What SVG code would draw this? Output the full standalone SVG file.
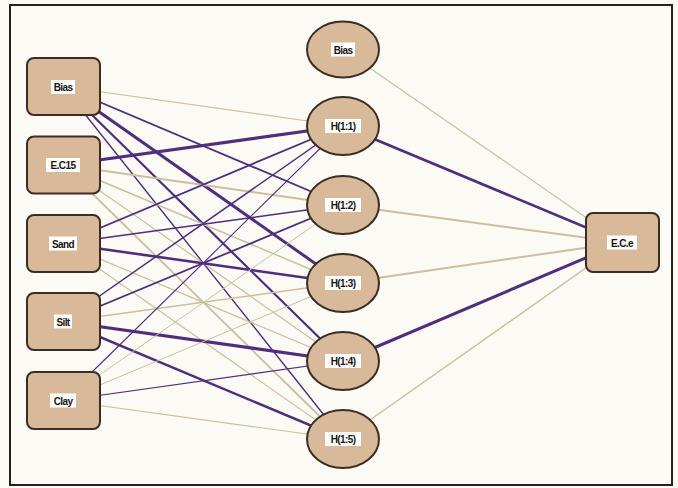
<svg xmlns="http://www.w3.org/2000/svg" width="678" height="488" viewBox="0 0 678 488">
<style>
.p{stroke:#4f2e7e;fill:none;stroke-linecap:round}
.t{stroke:#cbbf9e;fill:none;stroke-linecap:round}
.box{fill:#d8b999;stroke:#3b2c24;stroke-width:2}
.lb{fill:#ffffff}
.tx{font-family:"Liberation Sans",Arial,sans-serif;font-size:10px;font-weight:bold;fill:#1a1410;text-anchor:middle;letter-spacing:-0.6px}
</style>
<rect x="0" y="0" width="678" height="488" fill="#fbfaf4"/>
<rect x="10" y="5" width="662" height="480" fill="none" stroke="#222" stroke-width="2"/>
<g id="connectors">
<!-- Bias input -->
<line class="t" stroke-width="1.2" x1="63" y1="86.5" x2="343" y2="126"/>
<line class="p" stroke-width="1.8" x1="63" y1="86.5" x2="343" y2="205"/>
<line class="p" stroke-width="3" x1="63" y1="86.5" x2="343" y2="283"/>
<line class="p" stroke-width="2.2" x1="63" y1="86.5" x2="343" y2="361"/>
<line class="p" stroke-width="1.4" x1="63" y1="86.5" x2="343" y2="439"/>
<!-- E.C15 -->
<line class="p" stroke-width="3.2" x1="63" y1="165" x2="343" y2="126"/>
<line class="t" stroke-width="2" x1="63" y1="165" x2="343" y2="205"/>
<line class="t" stroke-width="1.5" x1="63" y1="165" x2="343" y2="283"/>
<line class="t" stroke-width="1.2" x1="63" y1="165" x2="343" y2="361"/>
<line class="t" stroke-width="1.8" x1="63" y1="165" x2="343" y2="439"/>
<!-- Sand -->
<line class="p" stroke-width="1.8" x1="63" y1="243.5" x2="343" y2="126"/>
<line class="p" stroke-width="1.5" x1="63" y1="243.5" x2="343" y2="205"/>
<line class="p" stroke-width="2.6" x1="63" y1="243.5" x2="343" y2="283"/>
<line class="t" stroke-width="1.2" x1="63" y1="243.5" x2="343" y2="361"/>
<line class="t" stroke-width="1.2" x1="63" y1="243.5" x2="343" y2="439"/>
<!-- Silt -->
<line class="p" stroke-width="1.5" x1="63" y1="321.5" x2="343" y2="126"/>
<line class="p" stroke-width="1.8" x1="63" y1="321.5" x2="343" y2="205"/>
<line class="t" stroke-width="1.5" x1="63" y1="321.5" x2="343" y2="283"/>
<line class="p" stroke-width="3.2" x1="63" y1="321.5" x2="343" y2="361"/>
<line class="p" stroke-width="2.5" x1="63" y1="321.5" x2="343" y2="439"/>
<!-- Clay -->
<line class="p" stroke-width="1.1" x1="63" y1="400.5" x2="343" y2="126"/>
<line class="t" stroke-width="1" x1="63" y1="400.5" x2="343" y2="205"/>
<line class="t" stroke-width="1" x1="63" y1="400.5" x2="343" y2="283"/>
<line class="p" stroke-width="1.2" x1="63" y1="400.5" x2="343" y2="361"/>
<line class="t" stroke-width="1.2" x1="63" y1="400.5" x2="343" y2="439"/>
<!-- hidden to output -->
<line class="t" stroke-width="1.2" x1="343" y1="49.5" x2="622" y2="242.5"/>
<line class="p" stroke-width="2.6" x1="343" y1="126" x2="622" y2="242.5"/>
<line class="t" stroke-width="2" x1="343" y1="205" x2="622" y2="242.5"/>
<line class="t" stroke-width="2" x1="343" y1="283" x2="622" y2="242.5"/>
<line class="p" stroke-width="3" x1="343" y1="361" x2="622" y2="242.5"/>
<line class="t" stroke-width="1.4" x1="343" y1="439" x2="622" y2="242.5"/>
</g>
<g id="in_bias"><rect class="box" x="27" y="58" width="73" height="57" rx="7"/><rect class="lb" x="51" y="80" width="24" height="14"/><text class="tx" x="63" y="91">Bias</text></g>
<g id="in_ec15"><rect class="box" x="27" y="136.5" width="73" height="57" rx="7"/><rect class="lb" x="46" y="158" width="34" height="14"/><text class="tx" x="63" y="169">E.C15</text></g>
<g id="in_sand"><rect class="box" x="27" y="215" width="73" height="57" rx="7"/><rect class="lb" x="49" y="236.5" width="28" height="14"/><text class="tx" x="63" y="247.5">Sand</text></g>
<g id="in_silt"><rect class="box" x="27" y="293" width="73" height="57" rx="7"/><rect class="lb" x="54" y="314.5" width="18" height="14"/><text class="tx" x="63" y="325.5">Silt</text></g>
<g id="in_clay"><rect class="box" x="27" y="372" width="73" height="57" rx="7"/><rect class="lb" x="50" y="393.5" width="26" height="14"/><text class="tx" x="63" y="404.5">Clay</text></g>
<g id="h_bias"><ellipse class="box" cx="343" cy="49.5" rx="36" ry="28"/><rect class="lb" x="331" y="42.5" width="24" height="14"/><text class="tx" x="343" y="53.5">Bias</text></g>
<g id="h1"><ellipse class="box" cx="343" cy="126" rx="36" ry="29"/><rect class="lb" x="325" y="119" width="36" height="14"/><text class="tx" x="343" y="130">H(1:1)</text></g>
<g id="h2"><ellipse class="box" cx="343" cy="205" rx="36" ry="29"/><rect class="lb" x="325" y="198" width="36" height="14"/><text class="tx" x="343" y="209">H(1:2)</text></g>
<g id="h3"><ellipse class="box" cx="343" cy="283" rx="36" ry="29"/><rect class="lb" x="325" y="276" width="36" height="14"/><text class="tx" x="343" y="287">H(1:3)</text></g>
<g id="h4"><ellipse class="box" cx="343" cy="361" rx="36" ry="29"/><rect class="lb" x="325" y="354" width="36" height="14"/><text class="tx" x="343" y="365">H(1:4)</text></g>
<g id="h5"><ellipse class="box" cx="343" cy="439" rx="36" ry="29"/><rect class="lb" x="325" y="432" width="36" height="14"/><text class="tx" x="343" y="443">H(1:5)</text></g>
<g id="out"><rect class="box" x="586" y="213" width="73" height="59" rx="7"/><rect class="lb" x="607" y="235.5" width="30" height="14"/><text class="tx" x="622" y="246.5">E.C.e</text></g>
</svg>
